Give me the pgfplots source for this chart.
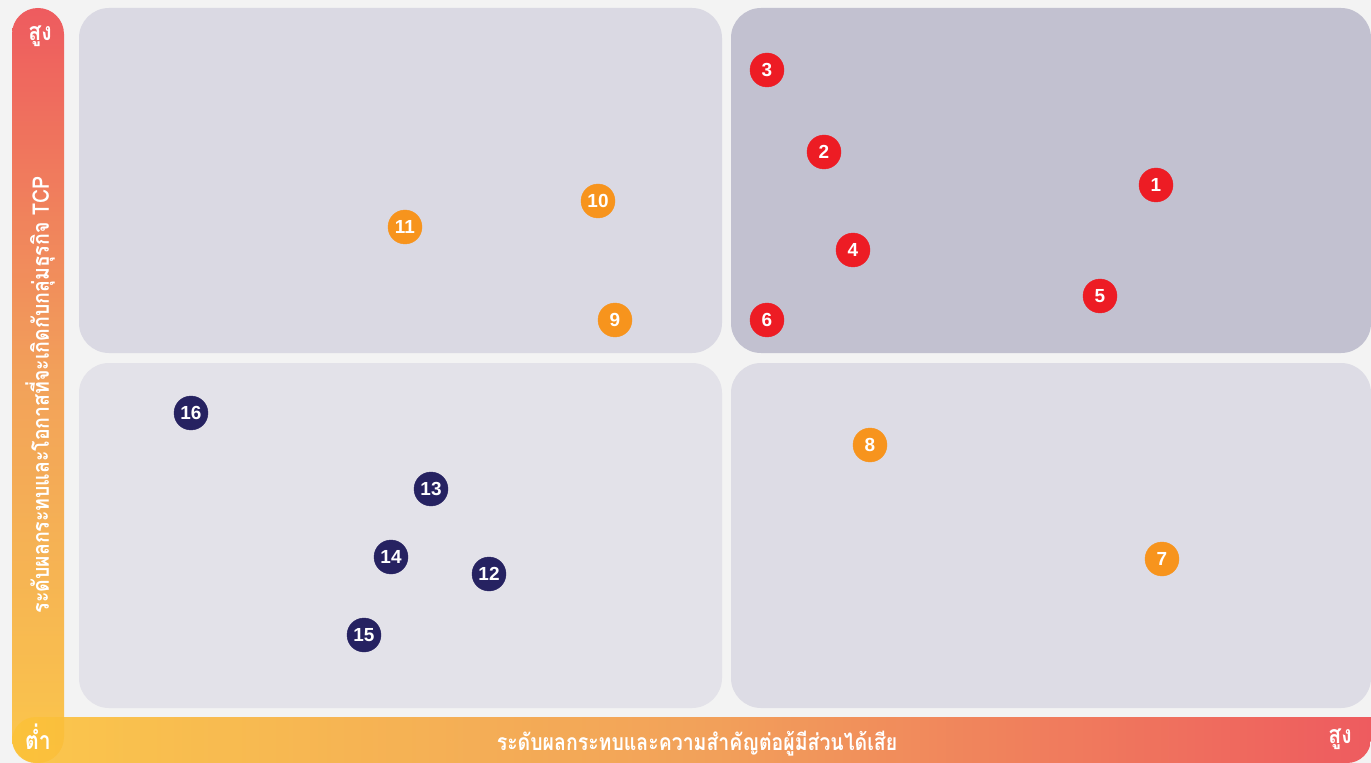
\documentclass[border=0pt]{standalone}
\usepackage{pgfplots}
\pgfplotsset{compat=1.18}
\usepackage{fontspec}
\setmainfont{Liberation Sans}
\newfontfamily\thaifont[Script=Thai, FakeStretch=0.85]{Loma}
\definecolor{bgc}{HTML}{F3F3F3}
\definecolor{ptl}{HTML}{DAD9E3}
\definecolor{ptr}{HTML}{C2C1D0}
\definecolor{pbl}{HTML}{E3E2E9}
\definecolor{pbr}{HTML}{DDDCE5}
\definecolor{cred}{HTML}{ED1C24}
\definecolor{corange}{HTML}{F7941D}
\definecolor{cnavy}{HTML}{262261}
\definecolor{gred}{HTML}{EE4B4F}
\definecolor{gmid}{HTML}{F29A4A}
\definecolor{gyel}{HTML}{FCC23A}
\begin{document}
\begin{tikzpicture}
\begin{axis}[scale only axis, width=1371bp, height=763bp,
  xmin=0, xmax=1371, ymin=0, ymax=763, y dir=reverse,
  hide axis, clip=false,
  point meta=explicit symbolic,
  nodes near coords={\pgfplotspointmeta},
  nodes near coords align={center},
  every node near coord/.append style={anchor=center, inner sep=0pt, text=white,
    font=\fontsize{19}{19}\selectfont\bfseries}]
% background
\fill[bgc] (0,0) rectangle (1371,763);
% panels
\fill[ptl, rounded corners=30bp] (79,8) rectangle (722,353);
\fill[ptr, rounded corners=30bp] (731,8) rectangle (1371,353);
\fill[pbl, rounded corners=30bp] (79,363) rectangle (722,708);
\fill[pbr, rounded corners=30bp] (731,363) rectangle (1371,708);
% side bars
\shade[top color=gred, bottom color=gyel, middle color=gmid, rounded corners=26bp, opacity=0.9] (12,8) rectangle (64,763);
\shade[left color=gyel, right color=gred, middle color=gmid, opacity=0.9, rounded corners=24bp] (1371,717) -- (12,717) -- (12,763) -- (1371,763) [sharp corners] -- cycle;
% labels
\node[text=white, font=\thaifont\bfseries\fontsize{25}{25}\selectfont] at (40,36) {สูง};
\node[text=white, font=\thaifont\bfseries\fontsize{25}{25}\selectfont] at (38,737) {ต่ำ};
\node[text=white, font=\thaifont\bfseries\fontsize{25}{25}\selectfont] at (1340,739) {สูง};
\node[text=white, font=\thaifont\bfseries\fontsize{23}{23}\selectfont] at (697,744) {ระดับผลกระทบและความสำคัญต่อผู้มีส่วนได้เสีย};
\node[text=white, rotate=90, font=\thaifont\bfseries\fontsize{23}{23}\selectfont] at (40,395) {ระดับผลกระทบและโอกาสที่จะเกิดกับกลุ่มธุรกิจ TCP};
% points
\addplot[cred, only marks, mark=*, mark size=17bp, mark options={fill=cred, draw=cred}] table[meta=label] {
x y label
1156 185 1
824 152 2
767 70 3
853 250 4
1100 296 5
767 320 6
};
\addplot[corange, only marks, mark=*, mark size=17bp, mark options={fill=corange, draw=corange}] table[meta=label] {
x y label
1162 559 7
870 445 8
615 320 9
598 201 10
405 227 11
};
\addplot[cnavy, only marks, mark=*, mark size=17bp, mark options={fill=cnavy, draw=cnavy}] table[meta=label] {
x y label
489 574 12
431 489 13
391 557 14
364 635 15
191 413 16
};
\end{axis}
\end{tikzpicture}
\end{document}
